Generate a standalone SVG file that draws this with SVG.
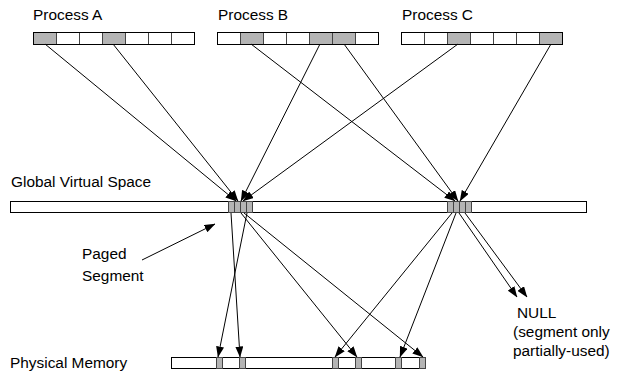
<svg xmlns="http://www.w3.org/2000/svg" width="617" height="375" viewBox="0 0 617 375">
  <style>
    .lbl { font-family: "Liberation Sans", Arial, sans-serif; font-size: 15.4px; fill: #000; }
    .bar { fill: #fff; stroke: #000; stroke-width: 1; }
    .cell { fill: #fff; stroke: #444; stroke-width: 1; }
    .pg { fill: #b4b4b4; stroke: #444; stroke-width: 1; }
    .conn line { stroke: #000; stroke-width: 1; fill: none; marker-end: url(#ah); }
  </style>
  <defs>
    <marker id="ah" markerWidth="11" markerHeight="8" refX="10.5" refY="4" orient="auto" markerUnits="userSpaceOnUse">
      <path d="M0,0 L11,4 L0,8 z" fill="#000"/>
    </marker>
  </defs>

  <rect width="617" height="375" fill="#fff"/>

  <!-- Process A page table -->
  <g id="process-a">
    <text class="lbl" x="33" y="20">Process A</text>
    <rect class="pg" x="33.5" y="32.5" width="23" height="12"/>
    <rect class="cell" x="56.5" y="32.5" width="23" height="12"/>
    <rect class="cell" x="79.5" y="32.5" width="23" height="12"/>
    <rect class="pg" x="102.5" y="32.5" width="23" height="12"/>
    <rect class="cell" x="125.5" y="32.5" width="23" height="12"/>
    <rect class="cell" x="148.5" y="32.5" width="23" height="12"/>
    <rect class="cell" x="171.5" y="32.5" width="23" height="12"/>
    <rect x="33.5" y="32.5" width="161" height="12" fill="none" stroke="#000"/>
  </g>

  <!-- Process B page table -->
  <g id="process-b">
    <text class="lbl" x="218" y="20">Process B</text>
    <rect class="cell" x="217.5" y="32.5" width="23" height="12"/>
    <rect class="pg" x="240.5" y="32.5" width="23" height="12"/>
    <rect class="cell" x="263.5" y="32.5" width="23" height="12"/>
    <rect class="cell" x="286.5" y="32.5" width="23" height="12"/>
    <rect class="pg" x="309.5" y="32.5" width="23" height="12"/>
    <rect class="pg" x="332.5" y="32.5" width="23" height="12"/>
    <rect class="cell" x="355.5" y="32.5" width="23" height="12"/>
    <rect x="217.5" y="32.5" width="161" height="12" fill="none" stroke="#000"/>
  </g>

  <!-- Process C page table -->
  <g id="process-c">
    <text class="lbl" x="402" y="20">Process C</text>
    <rect class="cell" x="401.5" y="32.5" width="23" height="12"/>
    <rect class="cell" x="424.5" y="32.5" width="23" height="12"/>
    <rect class="pg" x="447.5" y="32.5" width="23" height="12"/>
    <rect class="cell" x="470.5" y="32.5" width="23" height="12"/>
    <rect class="cell" x="493.5" y="32.5" width="23" height="12"/>
    <rect class="cell" x="516.5" y="32.5" width="23" height="12"/>
    <rect class="pg" x="539.5" y="32.5" width="23" height="12"/>
    <rect x="401.5" y="32.5" width="161" height="12" fill="none" stroke="#000"/>
  </g>

  <!-- Global virtual address space -->
  <g id="global-virtual-space">
    <text class="lbl" x="11" y="187">Global Virtual Space</text>
    <rect class="bar" x="10.5" y="201.5" width="576" height="11"/>
    <rect class="pg" x="228.5" y="201.5" width="6" height="11"/>
    <rect class="pg" x="234.5" y="201.5" width="6" height="11"/>
    <rect class="pg" x="240.5" y="201.5" width="6" height="11"/>
    <rect class="pg" x="246.5" y="201.5" width="6" height="11"/>
    <rect class="pg" x="447.5" y="201.5" width="6" height="11"/>
    <rect class="pg" x="453.5" y="201.5" width="6" height="11"/>
    <rect class="pg" x="459.5" y="201.5" width="6" height="11"/>
    <rect class="pg" x="465.5" y="201.5" width="6" height="11"/>
  </g>

  <!-- Physical memory -->
  <g id="physical-memory">
    <text class="lbl" x="10" y="368">Physical Memory</text>
    <rect class="bar" x="171.5" y="357.5" width="254" height="11"/>
    <rect class="pg" x="216.5" y="357.5" width="6" height="11"/>
    <rect class="pg" x="239.5" y="357.5" width="6" height="11"/>
    <rect class="pg" x="332.5" y="357.5" width="6" height="11"/>
    <rect class="pg" x="355.5" y="357.5" width="6" height="11"/>
    <rect class="pg" x="395.5" y="357.5" width="6" height="11"/>
    <rect class="pg" x="419.5" y="357.5" width="6" height="11"/>
  </g>

  <!-- Annotations -->
  <g id="paged-segment">
    <text class="lbl" x="82" y="259">Paged</text>
    <text class="lbl" x="82" y="281">Segment</text>
  </g>
  <g id="null-note">
    <text class="lbl" x="517" y="318">NULL</text>
    <text class="lbl" x="513" y="337">(segment only</text>
    <text class="lbl" x="513" y="356">partially-used)</text>
  </g>

  <!-- Connectors -->
  <g id="connectors" class="conn">
    <!-- page table entries to the global space -->
    <line x1="45" y1="44" x2="236" y2="201"/>
    <line x1="113" y1="44" x2="238" y2="201"/>
    <line x1="320" y1="44" x2="241" y2="201"/>
    <line x1="458" y1="44" x2="243" y2="201"/>
    <line x1="251" y1="44" x2="455" y2="201"/>
    <line x1="344" y1="44" x2="458" y2="201"/>
    <line x1="551" y1="44" x2="460" y2="201"/>
    <!-- global space pages to physical frames -->
    <line x1="231" y1="213" x2="240" y2="357"/>
    <line x1="247" y1="213" x2="218" y2="357"/>
    <line x1="241" y1="213" x2="357" y2="357"/>
    <line x1="244" y1="213" x2="423" y2="357"/>
    <line x1="452" y1="213" x2="335" y2="357"/>
    <line x1="456" y1="213" x2="400" y2="357"/>
    <line x1="459" y1="213" x2="517" y2="297"/>
    <line x1="465" y1="213" x2="527" y2="297"/>
    <!-- label pointer -->
    <line x1="142" y1="260" x2="215" y2="224"/>
  </g>
</svg>
